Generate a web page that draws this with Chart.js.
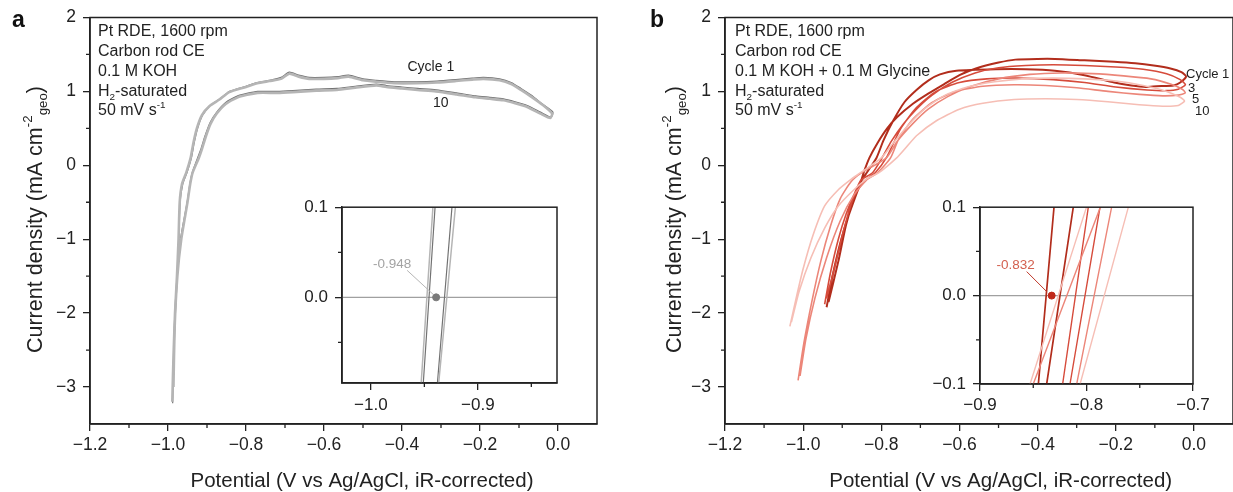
<!DOCTYPE html>
<html>
<head>
<meta charset="utf-8">
<script src="https://cdn.jsdelivr.net/npm/chart.js@4.4.1/dist/chart.umd.min.js"></script>
<style>
  html, body { margin: 0; padding: 0; background: #fff; overflow: hidden; }
  #wrap { position: relative; width: 1233px; height: 492px; overflow: hidden; }
  canvas { position: absolute; }
</style>
</head>
<body>
<div id="wrap">
  <canvas id="mainA" width="620" height="492" style="left:0;top:0"></canvas>
  <canvas id="mainB" width="613" height="492" style="left:620px;top:0"></canvas>
  <canvas id="insetA" width="280" height="240" style="left:290px;top:190px"></canvas>
  <canvas id="insetB" width="300" height="240" style="left:920px;top:190px"></canvas>
</div>
<script>
// ---- axes ----
const xTicksMain = [-1.2, -1.0, -0.8, -0.6, -0.4, -0.2, 0.0];
const xMinorMain = [-1.1, -0.9, -0.7, -0.5, -0.3, -0.1];
const yTicksMain = [-3, -2, -1, 0, 1, 2];
const yMinorMain = [-2.5, -1.5, -0.5, 0.5, 1.5];
const xTicksInsetA = [-1.0, -0.9];
const xMinorInsetA = [-0.95, -0.85];
const yTicksInsetA = [0.0, 0.1];
const yMinorInsetA = [-0.05, 0.05];
const xTicksInsetB = [-0.9, -0.8, -0.7];
const xMinorInsetB = [-0.85, -0.75];
const yTicksInsetB = [-0.1, 0.0, 0.1];
const yMinorInsetB = [-0.05, 0.05];

// ---- panel a: 0.1 M KOH, cycle 1 and cycle 10 ----
const a1X = [-0.988, -0.985, -0.981, -0.976, -0.972, -0.969, -0.962, -0.951, -0.940, -0.933, -0.924, -0.911, -0.892, -0.867, -0.842, -0.80, -0.771, -0.74, -0.71, -0.689, -0.665, -0.638, -0.60, -0.565, -0.537, -0.50, -0.466, -0.42, -0.364, -0.31, -0.262, -0.22, -0.191, -0.15, -0.12, -0.095, -0.069, -0.04, -0.013,
  -0.018, -0.045, -0.079, -0.11, -0.14, -0.175, -0.211, -0.26, -0.313, -0.36, -0.40, -0.44, -0.466, -0.52, -0.567, -0.62, -0.68, -0.72, -0.77, -0.80, -0.821, -0.852, -0.875, -0.892, -0.905, -0.915, -0.9242, -0.9378, -0.944, -0.951, -0.968, -0.977, -0.984, -0.987];
const a1Y = [-3.22, -2.6, -2.0, -1.5, -1.0, -0.5, -0.25, -0.095, 0.1, 0.3, 0.5, 0.68, 0.81, 0.90, 1.0, 1.07, 1.12, 1.15, 1.19, 1.26, 1.22, 1.19, 1.19, 1.2, 1.22, 1.17, 1.15, 1.13, 1.13, 1.14, 1.16, 1.18, 1.19, 1.17, 1.12, 1.04, 0.95, 0.83, 0.72,
  0.65, 0.72, 0.81, 0.86, 0.90, 0.92, 0.94, 0.98, 1.02, 1.04, 1.06, 1.08, 1.10, 1.07, 1.04, 1.03, 1.01, 1.0, 1.0, 0.97, 0.94, 0.85, 0.72, 0.58, 0.40, 0.23, 0.1, -0.095, -0.25, -0.5, -1.0, -1.5, -2.2, -3.0];
const a10X = [-0.989, -0.986, -0.982, -0.977, -0.973, -0.970, -0.964, -0.953, -0.942, -0.935, -0.926, -0.913, -0.894, -0.868, -0.843, -0.80, -0.771, -0.74, -0.71, -0.689, -0.665, -0.638, -0.60, -0.565, -0.537, -0.50, -0.466, -0.42, -0.364, -0.31, -0.262, -0.22, -0.191, -0.15, -0.12, -0.095, -0.069, -0.04, -0.015,
  -0.02, -0.045, -0.079, -0.11, -0.14, -0.175, -0.211, -0.26, -0.313, -0.36, -0.40, -0.44, -0.466, -0.52, -0.567, -0.62, -0.68, -0.72, -0.77, -0.80, -0.821, -0.852, -0.875, -0.891, -0.903, -0.913, -0.921, -0.9366, -0.943, -0.950, -0.966, -0.976, -0.983, -0.986];
const a10Y = [-3.2, -2.6, -2.0, -1.5, -1.0, -0.5, -0.25, -0.095, 0.1, 0.3, 0.5, 0.68, 0.80, 0.89, 0.99, 1.06, 1.11, 1.14, 1.17, 1.24, 1.20, 1.17, 1.17, 1.18, 1.20, 1.15, 1.13, 1.11, 1.11, 1.12, 1.14, 1.16, 1.17, 1.15, 1.10, 1.02, 0.93, 0.82, 0.70,
  0.64, 0.70, 0.79, 0.84, 0.88, 0.90, 0.92, 0.96, 1.00, 1.02, 1.04, 1.06, 1.08, 1.05, 1.02, 1.01, 0.99, 0.98, 0.98, 0.95, 0.92, 0.83, 0.70, 0.56, 0.39, 0.22, 0.1, -0.095, -0.25, -0.5, -1.0, -1.5, -2.2, -3.0];
const onsetA = [-0.939];

// ---- panel b: 0.1 M KOH + 0.1 M glycine, cycles 1, 3, 5, 10 ----
const b1X = [-0.940, -0.925, -0.905, -0.885, -0.866, -0.852, -0.8452, -0.8305, -0.81, -0.785, -0.760, -0.72, -0.68, -0.639, -0.60, -0.558, -0.50, -0.457, -0.40, -0.356, -0.28, -0.204, -0.15, -0.103, -0.06, -0.032, -0.02,
  -0.035, -0.052, -0.096, -0.123, -0.16, -0.204, -0.28, -0.356, -0.43, -0.507, -0.608, -0.65, -0.679, -0.710, -0.740, -0.77, -0.795, -0.8124, -0.8374, -0.85, -0.87, -0.89, -0.91, -0.935];
const b1Y = [-1.92, -1.5, -1.05, -0.7, -0.42, -0.22, -0.1, 0.1, 0.3, 0.5, 0.65, 0.83, 0.97, 1.10, 1.22, 1.31, 1.39, 1.43, 1.44, 1.44, 1.42, 1.40, 1.38, 1.35, 1.31, 1.26, 1.2,
  1.12, 1.08, 1.07, 1.06, 1.08, 1.12, 1.22, 1.28, 1.30, 1.30, 1.28, 1.23, 1.15, 1.02, 0.86, 0.6, 0.33, 0.1, -0.1, -0.2, -0.45, -0.8, -1.3, -1.85];
const b3X = [-0.945, -0.93, -0.91, -0.89, -0.87, -0.852, -0.8224, -0.7983, -0.775, -0.745, -0.71, -0.67, -0.62, -0.56, -0.50, -0.43, -0.36, -0.28, -0.20, -0.13, -0.07, -0.035, -0.022,
  -0.04, -0.07, -0.12, -0.2, -0.28, -0.36, -0.45, -0.53, -0.60, -0.66, -0.71, -0.75, -0.7873, -0.8155, -0.845, -0.872, -0.895, -0.918, -0.94];
const b3Y = [-1.88, -1.45, -1.0, -0.66, -0.4, -0.2, -0.1, 0.1, 0.32, 0.55, 0.76, 0.95, 1.12, 1.25, 1.32, 1.35, 1.36, 1.35, 1.33, 1.30, 1.24, 1.16, 1.09,
  1.03, 1.01, 1.02, 1.06, 1.12, 1.16, 1.18, 1.17, 1.12, 1.0, 0.78, 0.5, 0.1, -0.1, -0.22, -0.45, -0.85, -1.35, -1.8];
const b5X = [-1.013, -0.998, -0.978, -0.955, -0.93, -0.905, -0.877, -0.85, -0.787, -0.76, -0.72, -0.68, -0.63, -0.57, -0.50, -0.42, -0.34, -0.26, -0.18, -0.11, -0.06, -0.03, -0.022,
  -0.04, -0.08, -0.14, -0.22, -0.3, -0.38, -0.46, -0.54, -0.61, -0.67, -0.72, -0.755, -0.7764, -0.8092, -0.838, -0.87, -0.905, -0.94, -0.97, -0.993, -1.008];
const b5Y = [-2.91, -2.4, -1.85, -1.3, -0.82, -0.45, -0.22, -0.1, 0.1, 0.32, 0.56, 0.76, 0.93, 1.07, 1.17, 1.23, 1.25, 1.24, 1.21, 1.17, 1.10, 1.03, 0.98,
  0.95, 0.94, 0.96, 1.0, 1.05, 1.08, 1.09, 1.07, 1.0, 0.85, 0.62, 0.36, 0.1, -0.1, -0.2, -0.4, -0.75, -1.25, -1.8, -2.35, -2.85];
const b10X = [-1.034, -1.018, -1.0, -0.975, -0.945, -0.91, -0.88, -0.853, -0.80, -0.77, -0.73, -0.69, -0.64, -0.58, -0.51, -0.44, -0.36, -0.28, -0.20, -0.13, -0.07, -0.035, -0.024,
  -0.04, -0.08, -0.14, -0.22, -0.30, -0.38, -0.46, -0.54, -0.60, -0.66, -0.71, -0.74, -0.7607, -0.806, -0.836, -0.87, -0.91, -0.945, -0.98, -1.01, -1.03];
const b10Y = [-2.18, -1.8, -1.4, -0.95, -0.55, -0.33, -0.2, -0.1, 0.1, 0.3, 0.55, 0.76, 0.94, 1.06, 1.13, 1.17, 1.18, 1.17, 1.14, 1.08, 1.0, 0.92, 0.87,
  0.81, 0.80, 0.82, 0.86, 0.89, 0.90, 0.89, 0.84, 0.76, 0.6, 0.4, 0.22, 0.1, -0.1, -0.18, -0.33, -0.55, -0.85, -1.25, -1.7, -2.12];
const onsetB = [-0.8327];

const FONT = '"Liberation Sans", Arial, sans-serif';
Chart.defaults.font.family = FONT;
Chart.defaults.color = '#222';
Chart.defaults.animation = false;

function pts(xs, ys) {
  return xs.map((x, i) => ({ x: x, y: ys[i] }));
}

function fmt1(v) {
  return (v < -1e-9 ? '\u2212' : '') + Math.abs(v).toFixed(1);
}
function fmt0(v) {
  return (v < 0 ? '\u2212' : '') + Math.abs(v);
}

// texte avec exposants / indices
function drawRich(ctx, runs, x, y, size, align, color, weight) {
  ctx.save();
  ctx.fillStyle = color || '#222';
  ctx.textBaseline = 'alphabetic';
  ctx.textAlign = 'left';
  const font = s => (weight ? weight + ' ' : '') + s + 'px ' + FONT;
  let w = 0;
  runs.forEach(r => { ctx.font = font(size * (r[1] || 1)); w += ctx.measureText(r[0]).width; });
  let cx = align === 'center' ? x - w / 2 : x;
  runs.forEach(r => {
    ctx.font = font(size * (r[1] || 1));
    ctx.fillText(r[0], cx, y + (r[2] || 0) * size);
    cx += ctx.measureText(r[0]).width;
  });
  ctx.restore();
}

function axis(min, max, ticks, fmt, size, fit, horiz, pad) {
  return {
    type: 'linear', min: min, max: max,
    afterBuildTicks: s => { s.ticks = ticks.map(v => ({ value: v })); },
    afterFit: s => { if (horiz) s.height = fit; else s.width = fit; },
    ticks: { callback: v => fmt(v), font: { size: size }, color: '#222', padding: pad, autoSkip: false, maxRotation: 0 },
    grid: { drawOnChartArea: false, tickLength: 7, color: '#222', lineWidth: 1.3 },
    border: { color: '#222', width: 1.5 }
  };
}

function frame(xMinor, yMinor, inset) {
  return {
    id: 'frame',
    beforeDraw(chart) {
      if (!inset) return;
      const { ctx, chartArea: a } = chart;
      ctx.save();
      ctx.fillStyle = '#fff';
      ctx.fillRect(a.left, a.top, a.right - a.left, a.bottom - a.top);
      ctx.restore();
    },
    beforeDatasetsDraw(chart) {
      if (!inset) return;
      const { ctx, chartArea: a, scales } = chart;
      const p = scales.y.getPixelForValue(0);
      ctx.save();
      ctx.strokeStyle = '#a0a0a0';
      ctx.lineWidth = 1.2;
      ctx.beginPath();
      ctx.moveTo(a.left, p);
      ctx.lineTo(a.right, p);
      ctx.stroke();
      ctx.restore();
    },
    afterDraw(chart) {
      const { ctx, chartArea: a, scales } = chart;
      ctx.save();
      ctx.strokeStyle = '#222';
      ctx.lineWidth = 1.3;
      ctx.beginPath();
      xMinor.forEach(v => {
        const p = scales.x.getPixelForValue(v);
        ctx.moveTo(p, a.bottom); ctx.lineTo(p, a.bottom + 4);
      });
      yMinor.forEach(v => {
        const p = scales.y.getPixelForValue(v);
        ctx.moveTo(a.left, p); ctx.lineTo(a.left - 4, p);
      });
      ctx.stroke();
      ctx.lineWidth = 1.5;
      ctx.strokeRect(a.left, a.top, a.right - a.left, a.bottom - a.top);
      ctx.restore();
    }
  };
}

function texts(fn) {
  return { id: 'texts', afterDraw(chart) { fn(chart.ctx, chart); } };
}

const yTitle = [['Current density (mA cm', 1, 0], ['-2', 0.62, -0.45], ['geo', 0.62, 0.25], [')', 1, 0]];
const xTitle = [['Potential (V vs Ag/AgCl, iR-corrected)', 1, 0]];

function conditions(ctx, x, third) {
  const base = [36, 56, 76, 95.5, 115];
  drawRich(ctx, [['Pt RDE, 1600 rpm']], x, base[0], 16);
  drawRich(ctx, [['Carbon rod CE']], x, base[1], 16);
  drawRich(ctx, [[third]], x, base[2], 16);
  drawRich(ctx, [['H', 1, 0], ['2', 0.62, 0.25], ['-saturated', 1, 0]], x, base[3], 16);
  drawRich(ctx, [['50 mV s', 1, 0], ['-1', 0.62, -0.45]], x, base[4], 16);
}

function axisTitles(ctx, yx, xc) {
  ctx.save();
  ctx.translate(yx, 219.5);
  ctx.rotate(-Math.PI / 2);
  drawRich(ctx, yTitle, 0, 0, 21.5, 'center');
  ctx.restore();
  drawRich(ctx, xTitle, xc, 487, 20.5, 'center');
}

function line(xs, ys, color, width, tension) {
  return {
    data: pts(xs, ys), showLine: true, pointRadius: 0,
    borderColor: color, borderWidth: width, tension: tension
  };
}

function dot(xs, color) {
  return {
    data: xs.map(x => ({ x: x, y: 0 })), showLine: false,
    pointRadius: 3.5, pointBackgroundColor: color, pointBorderColor: color
  };
}

const greyDark = '#727272', greyLight = '#b5b5b5';
const red1 = '#b22d1c', red3 = '#d64b3b', red5 = '#ec8679', red10 = '#f6beb5';

// ---- panel a ----
new Chart(document.getElementById('mainA'), {
  type: 'scatter',
  data: { datasets: [
    line(a10X, a10Y, greyLight, 2.6, 0.2),
    line(a1X, a1Y, greyDark, 1.2, 0.2)
  ] },
  options: {
    responsive: false,
    layout: { padding: { left: 0, top: 15, right: 23, bottom: 0 } },
    plugins: { legend: { display: false }, tooltip: { enabled: false } },
    scales: {
      x: axis(-1.2, 0.1, xTicksMain, fmt1, 17.5, 68, true, 4),
      y: axis(-3.5, 2, yTicksMain, fmt0, 17.5, 90, false, 7)
    }
  },
  plugins: [frame(xMinorMain, yMinorMain, false), texts((ctx) => {
    drawRich(ctx, [['a']], 12, 26.5, 23, 'left', '#111', 'bold');
    conditions(ctx, 98, '0.1 M KOH');
    drawRich(ctx, [['Cycle 1']], 407.5, 71, 14);
    drawRich(ctx, [['10']], 433, 106.5, 14);
    axisTitles(ctx, 42, 362);
  })]
});

// ---- panel b ----
new Chart(document.getElementById('mainB'), {
  type: 'scatter',
  data: { datasets: [
    line(b10X, b10Y, red10, 1.6, 0.2),
    line(b5X, b5Y, red5, 1.6, 0.2),
    line(b3X, b3Y, red3, 1.6, 0.2),
    line(b1X, b1Y, red1, 2, 0.2)
  ] },
  options: {
    responsive: false,
    layout: { padding: { left: 0, top: 15, right: 0, bottom: 0 } },
    plugins: { legend: { display: false }, tooltip: { enabled: false } },
    scales: {
      x: axis(-1.2, 0.1, xTicksMain, fmt1, 17.5, 68, true, 4),
      y: axis(-3.5, 2, yTicksMain, fmt0, 17.5, 105, false, 7)
    }
  },
  plugins: [frame(xMinorMain, yMinorMain, false), texts((ctx) => {
    drawRich(ctx, [['b']], 30, 26.5, 23, 'left', '#111', 'bold');
    conditions(ctx, 115, '0.1 M KOH + 0.1 M Glycine');
    drawRich(ctx, [['Cycle 1']], 566, 77.5, 13);
    drawRich(ctx, [['3']], 568, 91.5, 13);
    drawRich(ctx, [['5']], 572, 102.5, 13);
    drawRich(ctx, [['10']], 575, 114.5, 13);
    axisTitles(ctx, 61, 380.7);
  })]
});

// ---- insets ----
function callout(ctx, chart, xv, text, color, lineColor, lab, l0, l1) {
  const px = chart.scales.x.getPixelForValue(xv);
  const py = chart.scales.y.getPixelForValue(0);
  ctx.save();
  ctx.strokeStyle = lineColor;
  ctx.lineWidth = 1;
  ctx.beginPath();
  ctx.moveTo(px + l0[0], py + l0[1]);
  ctx.lineTo(px + l1[0], py + l1[1]);
  ctx.stroke();
  ctx.restore();
  drawRich(ctx, [[text]], px + lab[0], py + lab[1], 13.5, 'center', color);
}

new Chart(document.getElementById('insetA'), {
  type: 'scatter',
  data: { datasets: [
    line(a10X, a10Y, greyLight, 1.5, 0),
    line(a1X, a1Y, greyDark, 1.2, 0),
    dot(onsetA, '#7a7a7a')
  ] },
  options: {
    responsive: false,
    layout: { padding: { left: 0, top: 16, right: 13, bottom: 0 } },
    plugins: { legend: { display: false }, tooltip: { enabled: false } },
    scales: {
      x: axis(-1.027, -0.826, xTicksInsetA, fmt1, 17, 47, true, 5),
      y: axis(-0.095, 0.1, yTicksInsetA, fmt1, 17, 52, false, 7)
    }
  },
  plugins: [frame(xMinorInsetA, yMinorInsetA, true), texts((ctx, chart) => {
    callout(ctx, chart, onsetA[0], '-0.948', '#a3a3a3', '#b5b5b5', [-44, -29], [-29, -27], [-3, -3]);
  })]
});

new Chart(document.getElementById('insetB'), {
  type: 'scatter',
  data: { datasets: [
    line(b10X, b10Y, red10, 1.4, 0),
    line(b5X, b5Y, red5, 1.4, 0),
    line(b3X, b3Y, red3, 1.4, 0),
    line(b1X, b1Y, red1, 1.7, 0),
    dot(onsetB, '#c0281a')
  ] },
  options: {
    responsive: false,
    layout: { padding: { left: 0, top: 16, right: 27, bottom: 0 } },
    plugins: { legend: { display: false }, tooltip: { enabled: false } },
    scales: {
      x: axis(-0.9, -0.7, xTicksInsetB, fmt1, 17, 46, true, 4),
      y: axis(-0.1, 0.1, yTicksInsetB, fmt1, 17, 60, false, 7)
    }
  },
  plugins: [frame(xMinorInsetB, yMinorInsetB, true), texts((ctx, chart) => {
    callout(ctx, chart, onsetB[0], '-0.832', '#d3604f', '#c0392b', [-36, -27], [-25, -24], [-5, -4]);
  })]
});
</script>
</body>
</html>
